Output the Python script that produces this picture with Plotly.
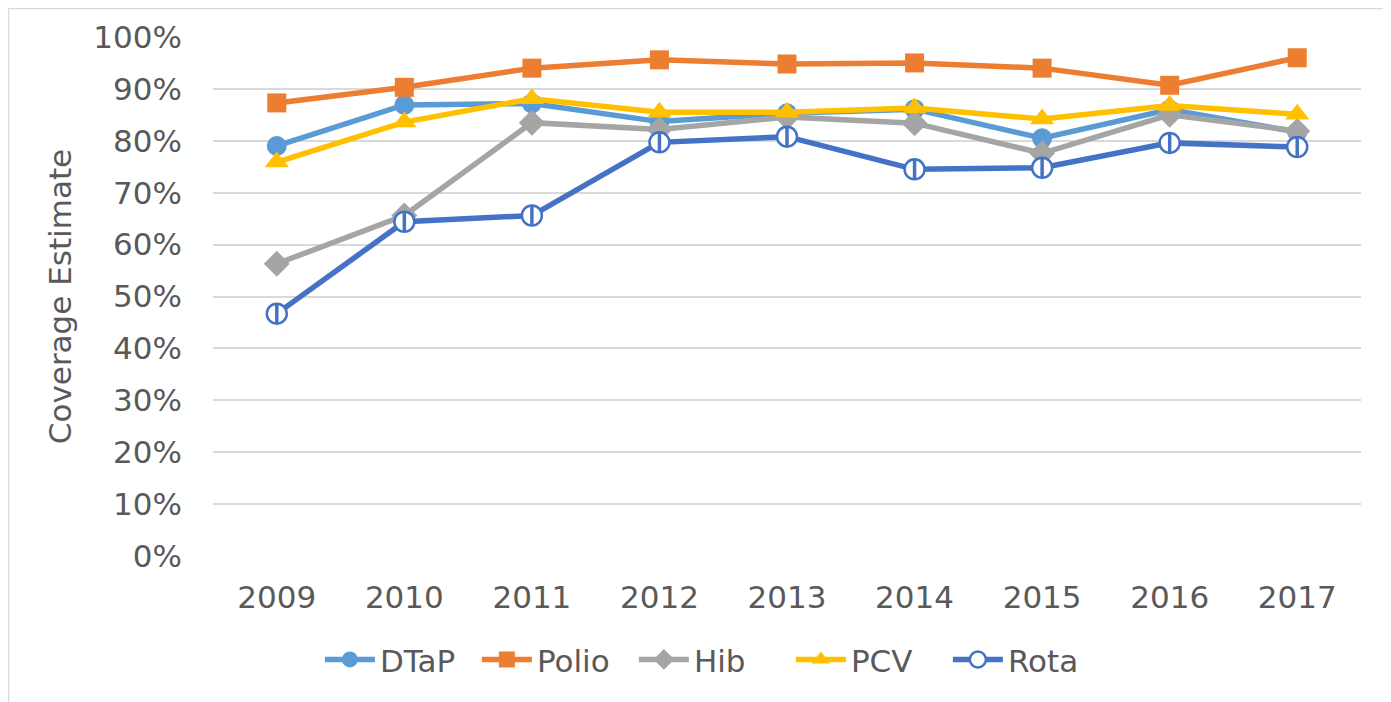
import plotly.graph_objects as go

years = ["2009", "2010", "2011", "2012", "2013", "2014", "2015", "2016", "2017"]
dtap = [79.0, 86.9, 87.2, 83.7, 85.3, 86.1, 80.5, 86.0, 81.7]
polio = [87.3, 90.3, 94.0, 95.6, 94.8, 95.0, 94.0, 90.7, 96.0]
hib = [56.3, 65.6, 83.5, 82.2, 84.6, 83.4, 77.6, 85.0, 81.9]
pcv = [75.9, 83.6, 88.1, 85.5, 85.5, 86.3, 84.2, 86.8, 85.1]
rota = [46.7, 64.4, 65.6, 79.7, 80.8, 74.5, 74.8, 79.6, 78.8]

FONT = "DejaVu Sans, Verdana, sans-serif"
TXT = "#595959"
FS = 31

fig = go.Figure()

def add(name, vals, color, symbol, size):
    fig.add_trace(go.Scatter(
        x=years, y=[v / 100 for v in vals], name=name, mode="lines+markers",
        line=dict(color=color, width=5.5),
        marker=dict(symbol=symbol, size=size, color=color, line=dict(width=0)),
    ))

add("DTaP", dtap, "#5B9BD5", "circle", 20)
add("Polio", polio, "#ED7D31", "square", 19)
add("Hib", hib, "#A5A5A5", "diamond", 20)
add("PCV", pcv, "#FFC000", "triangle-up", 21)

fig.add_trace(go.Scatter(
    x=years, y=[v / 100 for v in rota], name="Rota", mode="lines+markers",
    line=dict(color="#4472C4", width=5.5),
    marker=dict(symbol="circle", size=20, color="white", line=dict(color="#4472C4", width=2.5)),
))
fig.add_trace(go.Scatter(
    x=years, y=[v / 100 for v in rota], mode="markers", showlegend=False, hoverinfo="skip",
    marker=dict(symbol="line-ns", size=14, color="#4472C4", line=dict(color="#4472C4", width=3.5)),
))

W, H = 1391, 702
L, R, T, B = 205, 38, 29, 154
pw, ph = W - L - R, H - T - B

fig.add_shape(type="rect", xref="paper", yref="paper",
              x0=(0.5 - L) / pw, x1=(1380 - L) / pw,
              y0=1 - (720 - T) / ph, y1=1 + (T - 0.5) / ph,
              line=dict(color="#D9D9D9", width=1.5), fillcolor="rgba(0,0,0,0)", layer="below")

fig.update_layout(
    width=W, height=H,
    margin=dict(l=L, r=R, t=T, b=B),
    paper_bgcolor="white", plot_bgcolor="white",
    font=dict(family=FONT, color=TXT, size=FS),
    xaxis=dict(type="category", showgrid=False, showline=False, ticks="",
               tickfont=dict(size=FS, color=TXT), ticklabelstandoff=20,
               range=[-0.5, 8.5]),
    yaxis=dict(range=[0, 1.0], dtick=0.1, tickformat=".0%", showgrid=True,
               gridcolor="#D9D9D9", gridwidth=2, zeroline=False, showline=False,
               tickfont=dict(size=FS, color=TXT), ticklabelstandoff=30,
               title=dict(text="Coverage Estimate", font=dict(size=FS, color=TXT), standoff=12)),
    legend=dict(orientation="h", x=0.435, xanchor="center", y=-0.2, yanchor="middle",
                font=dict(size=FS, color=TXT), itemwidth=50, tracegroupgap=0,
                entrywidth=92, entrywidthmode="pixels",
                bgcolor="rgba(0,0,0,0)"),
    showlegend=True,
)

fig.write_html("out.html")
